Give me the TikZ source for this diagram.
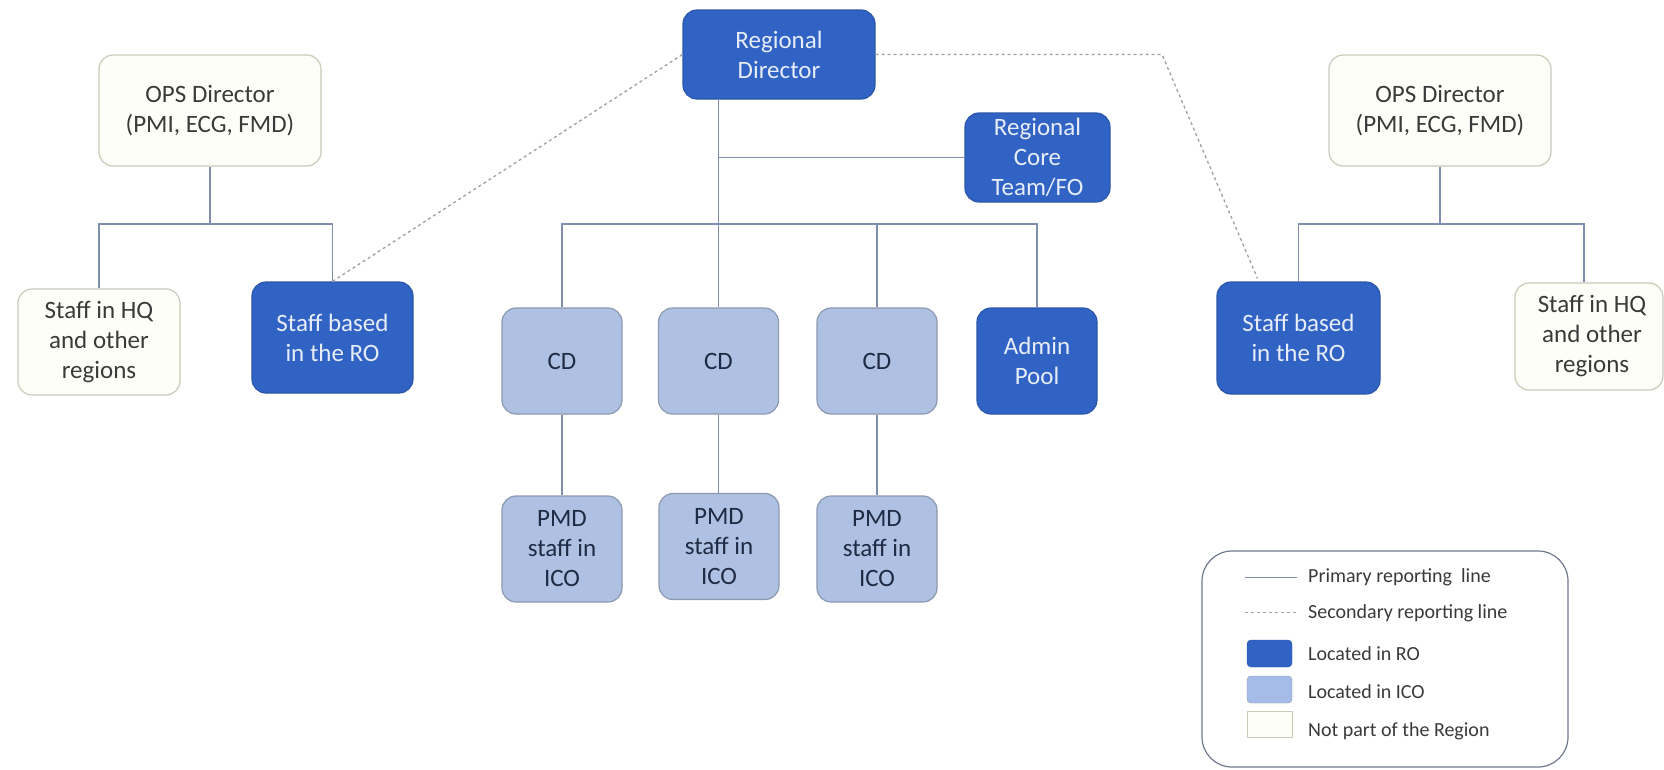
\documentclass[tikz,border=0pt]{standalone}
\usepackage{fontspec}
\setmainfont{Carlito}
\definecolor{roblue}{RGB}{49,99,196}
\definecolor{roborder}{RGB}{44,86,170}
\definecolor{rotext}{RGB}{230,236,248}
\definecolor{icofill}{RGB}{175,193,226}
\definecolor{icoborder}{RGB}{140,153,176}
\definecolor{icotext}{RGB}{31,42,68}
\definecolor{nofill}{RGB}{254,254,249}
\definecolor{noborder}{RGB}{200,203,186}
\definecolor{notext}{RGB}{58,58,58}
\definecolor{conline}{RGB}{128,142,174}
\definecolor{dashline}{RGB}{160,160,160}
\definecolor{legblue}{RGB}{165,188,232}
\tikzset{
  box/.style={rounded corners=14pt, inner sep=0pt, align=center,
    font=\fontsize{25}{30}\selectfont, line width=1.2pt},
  robox/.style={box, fill=roblue, draw=roborder, text=rotext},
  icobox/.style={box, fill=icofill, draw=icoborder, text=icotext},
  nobox/.style={box, fill=nofill, draw=noborder, text=notext},
  primary/.style={draw=conline, line width=1.4pt},
  secondary/.style={draw=dashline, line width=1.3pt, dash pattern=on 3pt off 3pt},
  legtext/.style={anchor=west, inner sep=0pt, text=notext, font=\fontsize{20}{24}\selectfont},
}
\begin{document}
\begin{tikzpicture}[x=1pt,y=-1pt]
\useasboundingbox (0,0) rectangle (1664,769);
\fill[white] (0,0) rectangle (1664,769);

% top
\node[robox, minimum width=192pt, minimum height=89pt] (rd) at (779,54.5) {Regional\\Director};
\node[robox, minimum width=145pt, minimum height=89pt] (rct) at (1037.5,157.5) {Regional\\Core\\Team/FO};

% left group
\node[nobox, minimum width=222pt, minimum height=111pt] (opsl) at (210,110.5) {OPS Director\\(PMI, ECG, FMD)};
\node[nobox, minimum width=162pt, minimum height=106pt] (shql) at (99,342) {Staff in HQ\\and other\\regions};
\node[robox, minimum width=161pt, minimum height=111pt] (srol) at (332.5,337.5) {Staff based\\in the RO};

% right group
\node[nobox, minimum width=222pt, minimum height=111pt] (opsr) at (1440,110.5) {OPS Director\\(PMI, ECG, FMD)};
\node[robox, minimum width=163pt, minimum height=112pt] (sror) at (1298.5,338) {Staff based\\in the RO};
\node[nobox, minimum width=148pt, minimum height=107pt] (shqr) at (1589,336.5) {\hspace*{6pt}Staff in HQ\\\hspace*{6pt}and other\\\hspace*{6pt}regions};

% CDs
\node[icobox, minimum width=120pt, minimum height=106pt] (cd1) at (562,361) {CD};
\node[icobox, minimum width=120pt, minimum height=106pt] (cd2) at (718.5,361) {CD};
\node[icobox, minimum width=120pt, minimum height=106pt] (cd3) at (877,361) {CD};
\node[robox, minimum width=120pt, minimum height=106pt] (admin) at (1037,361) {Admin\\Pool};

% PMD
\node[icobox, minimum width=120pt, minimum height=106pt] (pmd1) at (562,549) {PMD\\staff in\\ICO};
\node[icobox, minimum width=120pt, minimum height=106pt] (pmd2) at (719,546.5) {PMD\\staff in\\ICO};
\node[icobox, minimum width=120pt, minimum height=106pt] (pmd3) at (877,549) {PMD\\staff in\\ICO};

% primary lines (centre)
\draw[primary] (cd2.north |- rd.south) -- (cd2.north);
\draw[primary] (cd2.north |- rct.west) -- (rct.west);
\draw[primary] (cd1.north) -- (cd1.north |- 0,224) -- (admin.north |- 0,224) -- (admin.north);
\draw[primary] (cd3.north |- 0,224) -- (cd3.north);
\draw[primary] (cd1) -- (pmd1);
\draw[primary] (cd2.south) -- (pmd2.north -| cd2.south);
\draw[primary] (cd3) -- (pmd3);

% primary lines (left)
\draw[primary] (opsl.south) -- (opsl.south |- 0,224);
\draw[primary] (shql.north) -- (shql.north |- 0,224) -- (srol.north |- 0,224) -- (srol.north);

% primary lines (right)
\draw[primary] (opsr.south) -- (opsr.south |- 0,224);
\coordinate (rbar) at (1584,224);
\draw[primary] (sror.north) -- (sror.north |- rbar) -- (rbar) -- (rbar |- shqr.north);

% secondary lines
\draw[secondary] (srol.north) -- (rd.west);
\coordinate (bend) at (1162,54.5);
\draw[secondary] (rd.east) -- (bend) -- ([xshift=-41pt,yshift=3pt]sror.north);

% legend
\draw[draw=icoborder!80!black, line width=1.2pt, rounded corners=30pt, fill=white] (1202,551) rectangle (1568,767);
\coordinate (lp) at (1245,577);
\coordinate (lpe) at (1297,577);
\draw[primary, line width=1pt] (lp) -- (lpe);
\node[legtext] (tp) at (1308,577) {Primary reporting\ \ line};
\coordinate (ls) at (1245,612);
\coordinate (lse) at (1297,612);
\draw[secondary, line width=1pt] (ls) -- (lse);
\node[legtext] (ts) at (1308,613) {Secondary reporting line};
\node[fill=roblue, draw=roborder, rounded corners=4pt, minimum width=45pt, minimum height=27pt, inner sep=0pt] (sw1) at (1269.5,653.5) {};
\node[legtext] (t1) at (1308,654) {Located in RO};
\node[fill=legblue, draw=icoborder, rounded corners=4pt, minimum width=45pt, minimum height=27pt, inner sep=0pt] (sw2) at (1269.5,689.5) {};
\node[legtext] (t2) at (1308,692) {Located in ICO};
\node[fill=nofill, draw=noborder, minimum width=45pt, minimum height=26pt, inner sep=0pt] (sw3) at (1269.5,724) {};
\node[legtext] (t3) at (1308,731) {Not part of the Region};
\end{tikzpicture}
\end{document}
